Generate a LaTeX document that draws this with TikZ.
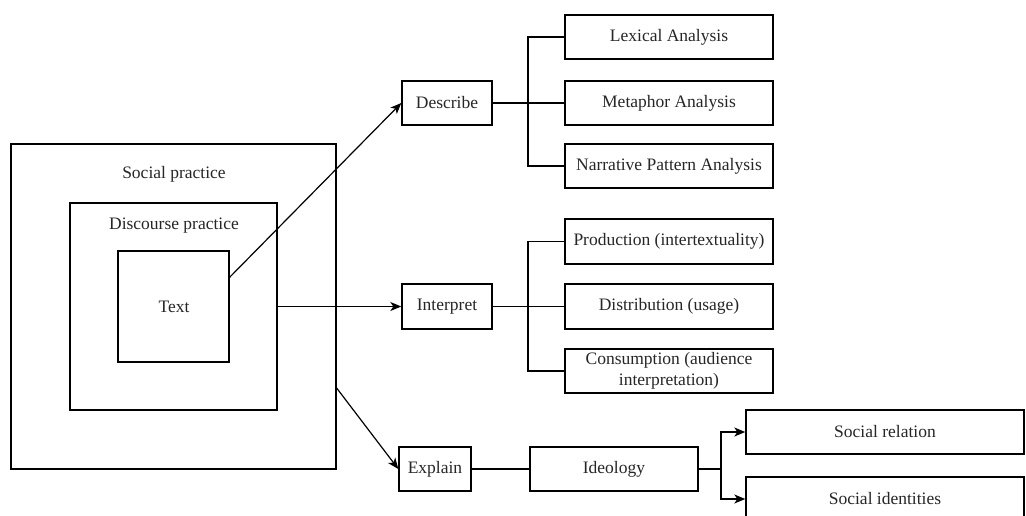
\documentclass[tikz,border=0pt]{standalone}
\usepackage{fontspec}
\setmainfont{Liberation Serif}
\usetikzlibrary{arrows.meta,calc}
\begin{document}
\begin{tikzpicture}[x=1pt,y=-1pt,
  box/.style={draw=black,line width=1.4pt,rectangle,inner sep=0pt,anchor=center},
  lbl/.style={inner sep=0pt,anchor=center,font=\fontsize{17.5}{20}\selectfont,text=black!85},
  link/.style={line width=1.2pt},
  arr/.style={line width=1.2pt,-{Stealth[length=11pt,width=9pt,inset=3pt]}}]
\clip (0,0) rectangle (1026,515);
\useasboundingbox (0,0) rectangle (1026,515);

% nested practice frames
\node[box,minimum width=325pt,minimum height=325pt] (social) at (173.5,306.5) {};
\node[box,minimum width=207pt,minimum height=207pt] (discourse) at (173.5,306.5) {};
\node[box,line width=1.1pt,minimum width=111pt,minimum height=111pt] (text) at (173.5,306.5) {};
\node[lbl] (socialtxt) at (174,174) {Social practice};
\node[lbl] (discoursetxt) at (174,226) {Discourse practice};
\node[lbl] (texttxt) at (174,307) {Text};

% three stages
\node[box,minimum width=90pt,minimum height=44pt] (describe) at (447,103) {};
\node[lbl] at (describe) {Describe};
\node[box,minimum width=90pt,minimum height=45pt] (interpret) at (447,306.5) {};
\node[lbl] at (interpret) {Interpret};
\node[box,minimum width=72pt,minimum height=44pt] (explain) at (435,469) {};
\node[lbl] at (explain) {Explain};

% describe branches
\node[box,minimum width=208pt,minimum height=44pt] (lexical) at (669,37) {};
\node[lbl] at (lexical) {Lexical Analysis};
\node[box,minimum width=208pt,minimum height=44pt] (metaphor) at (669,103) {};
\node[lbl] at (metaphor) {Metaphor Analysis};
\node[box,minimum width=208pt,minimum height=44pt] (narrative) at (669,166) {};
\node[lbl] at (narrative) {Narrative Pattern Analysis};

% interpret branches
\node[box,minimum width=208pt,minimum height=45pt] (production) at (669,241.5) {};
\node[lbl] at (production) {Production (intertextuality)};
\node[box,minimum width=208pt,minimum height=45pt] (distribution) at (669,306.5) {};
\node[lbl] at (distribution) {Distribution (usage)};
\node[box,minimum width=208pt,minimum height=44pt] (consumption) at (669,371) {};
\node[lbl,align=center,font=\fontsize{17.5}{21}\selectfont] at (669,371) {Consumption (audience\\interpretation)};

% explain chain
\node[box,minimum width=168pt,minimum height=44pt] (ideology) at (614,469) {};
\node[lbl] at (ideology) {Ideology};
\node[box,minimum width=278pt,minimum height=44pt] (relation) at (885,432) {};
\node[lbl] at (relation) {Social relation};
\node[box,minimum width=278pt,minimum height=44pt] (identities) at (885,499) {};
\node[lbl] at (identities) {Social identities};

% arrows from the frames
\coordinate (textout) at ($(text.north east)!0.24!(text.south east)$);
\coordinate (socialout) at ($(social.north east)!0.75!(social.south east)$);
\draw[arr] (textout) -- (describe.west);
\draw[arr] (discourse.east) -- (interpret.west);
\draw[arr] (socialout) -- (explain.west);

% describe tree
\coordinate (dj) at (528,103);
\draw[link] (describe.east) -- (metaphor.west);
\draw[link] (lexical.west) -| (dj) |- (narrative.west);

% interpret tree
\coordinate (ij) at (528,306.5);
\draw[link] (interpret.east) -- (distribution.west);
\draw[link] (production.west) -| (ij) |- (consumption.west);

% explain tree
\coordinate (ej) at (721,469);
\draw[link] (explain.east) -- (ideology.west);
\draw[link] (ideology.east) -- (ej);
\draw[arr] (ej) |- (relation.west);
\draw[arr] (ej) |- (identities.west);
\end{tikzpicture}
\end{document}
